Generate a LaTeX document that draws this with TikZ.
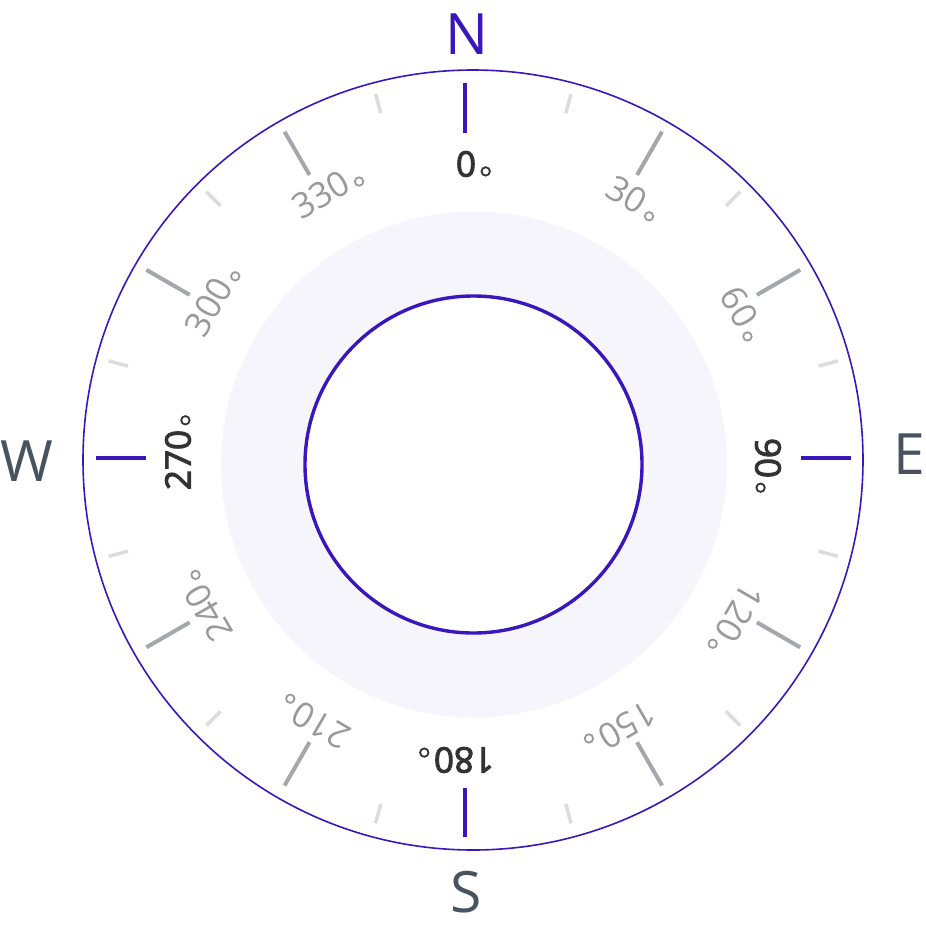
\documentclass[tikz,border=0pt]{standalone}
\usepackage{fontspec}
\usetikzlibrary{calc}
\setmainfont{Open Sans}
\newfontfamily\darkfont[FakeBold=3]{Open Sans}
\definecolor{compurple}{HTML}{3A16BD}
\definecolor{tickgrey}{HTML}{A4A8AC}
\definecolor{minorgrey}{HTML}{DCDCDC}
\definecolor{labgrey}{HTML}{9A9A9A}
\definecolor{labdark}{HTML}{333333}
\definecolor{slate}{HTML}{47535E}
\definecolor{bandfill}{HTML}{F6F5FC}
\begin{document}
\begin{tikzpicture}[x=1pt,y=-1pt,
  majortick/.style={draw=tickgrey, line width=4pt},
  minortick/.style={draw=minorgrey, line width=3.5pt},
  cardtick/.style={draw=compurple, line width=4.5pt},
  greylab/.style={font=\fontsize{35}{38}\selectfont, text=labgrey, inner sep=0pt},
  darklab/.style={font=\darkfont\fontsize{35}{38}\selectfont, text=labdark, inner sep=0pt},
  degring/.style={line width=1.8pt},
  dirletter/.style={font=\fontsize{57}{60}\selectfont, inner sep=0pt},
]
\useasboundingbox (0,0) rectangle (926,927);
% rings
\fill[bandfill] (474,464.5) circle (253);
\draw[compurple, line width=3.4pt, fill=white] (473.5,464.5) circle (168.5);
\draw[compurple, line width=1.6pt] (473,460) circle (390);
% ticks
\begin{scope}[shift={(473.3,458.6)}]
\foreach \t in {30,60,120,150,210,240,300,330}
  \draw[majortick] ({sin(\t)*327.5},{-cos(\t)*327.5}) -- ({sin(\t)*377.5},{-cos(\t)*377.5});
\foreach \t in {15,45,...,345}
  \draw[minortick] ({sin(\t)*357.5},{-cos(\t)*357.5}) -- ({sin(\t)*377.5},{-cos(\t)*377.5});
\end{scope}
\draw[cardtick] (465,83) -- (465,133);
\draw[cardtick] (465,788) -- (465,837);
\draw[cardtick] (96,458) -- (146,458);
\draw[cardtick] (801,458) -- (851,458);
% degree labels
\node[darklab] (lab0) at (466,164) {0};
\node[darklab, rotate=-90] (lab90) at (768,458) {90};
\node[darklab, rotate=-180] (lab180) at (464,760) {180};
\node[darklab, rotate=-270] (lab270) at (178,460) {270};
\foreach \t in {30,60,120,150,210,240,300,330}
  \node[greylab, rotate=-\t] (lab\t) at ({474+306*sin(\t)},{460-306*cos(\t)}) {\t};
% degree rings after each label
\foreach \t/\c in {0/labdark,90/labdark,180/labdark,270/labdark,30/labgrey,60/labgrey,120/labgrey,150/labgrey,210/labgrey,240/labgrey,300/labgrey,330/labgrey}{
  \coordinate (re\t) at ($(lab\t.base east)!0.2!(lab\t.north east)$);
  \coordinate (rw\t) at ($(lab\t.base west)!0.2!(lab\t.north west)$);
  \draw[degring, draw=\c] ($(re\t)!-9.5pt!(rw\t)$) circle (4.2);
}
% direction letters
\node[dirletter, text=compurple] (north) at (467,34.5) {N};
\node[dirletter, text=slate] (south) at (466,892.5) {S};
\node[dirletter, text=slate] (west) at (27,461) {W};
\node[dirletter, text=slate] (east) at (909,454) {E};
\end{tikzpicture}
\end{document}
